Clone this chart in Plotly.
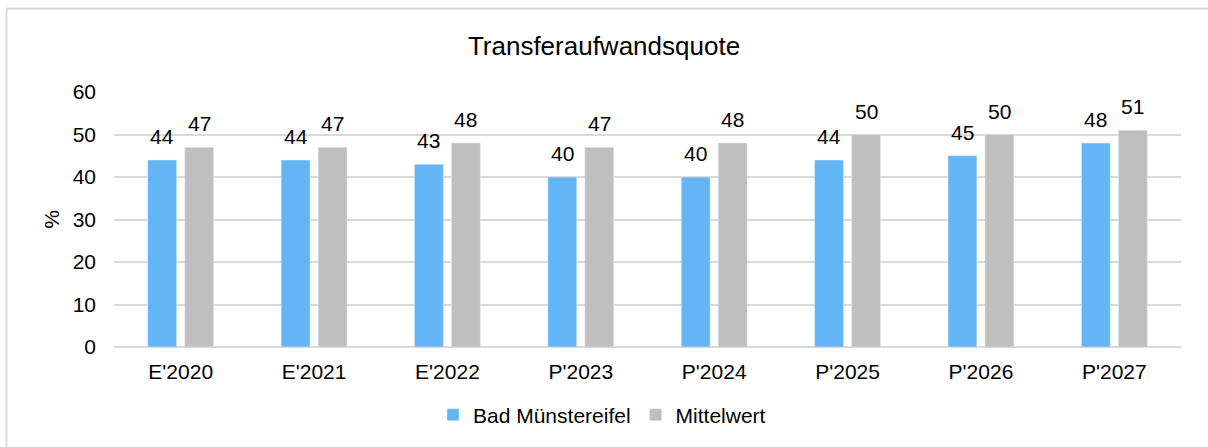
import plotly.graph_objects as go

categories = ["E'2020", "E'2021", "E'2022", "P'2023", "P'2024", "P'2025", "P'2026", "P'2027"]
bad_muenstereifel = [44, 44, 43, 40, 40, 44, 45, 48]
mittelwert = [47, 47, 48, 47, 48, 50, 50, 51]
y_ticks = [0, 10, 20, 30, 40, 50, 60]

FONT = "Liberation Sans, Arial, sans-serif"
TXT = "#000000"
FS = 21

fig = go.Figure()
fig.add_trace(go.Bar(
    x=categories, y=bad_muenstereifel, name="Bad Münstereifel",
    marker=dict(color="#64B5F6"),
))
fig.add_trace(go.Bar(
    x=categories, y=mittelwert, name="Mittelwert",
    marker=dict(color="#BFBFBF"),
))

# data labels
annotations = []
for series, shift in ((bad_muenstereifel, -18.5), (mittelwert, 18.5)):
    for c, v in zip(categories, series):
        annotations.append(dict(x=c, y=v, text=str(v), showarrow=False, xref="x", yref="y",
                                xanchor="center", yanchor="bottom", xshift=shift, yshift=10,
                                font=dict(size=FS, color=TXT, family=FONT)))

L, R, T, B = 114, 27, 92, 100
W, H = 1208, 447
pw, ph = W - L - R, H - T - B

def px(xpix):
    return (xpix - L) / pw

def py(ypix):
    return (H - B - ypix) / ph

border = dict(color="#D9D9D9", width=2)
fig.update_layout(
    width=W, height=H,
    margin=dict(l=L, r=R, t=T, b=B, autoexpand=False),
    paper_bgcolor="white", plot_bgcolor="white",
    font=dict(family=FONT, size=FS, color=TXT),
    barmode="group", bargap=0.445, bargroupgap=0.22,
    title=dict(text="Transferaufwandsquote", x=0.5, xref="container", xanchor="center",
               y=1 - 46 / H, yref="container", yanchor="middle",
               font=dict(size=26, color=TXT, family=FONT)),
    xaxis=dict(showgrid=False, showline=False, ticks="", ticklabelstandoff=10,
               tickfont=dict(size=FS, color=TXT)),
    yaxis=dict(range=[0, 60], tickvals=y_ticks, showgrid=True, gridcolor="#D9D9D9", gridwidth=1.5,
               zeroline=True, zerolinecolor="#D9D9D9", zerolinewidth=1.5,
               showline=False, ticks="", ticklabelstandoff=17,
               tickfont=dict(size=FS, color=TXT),
               title=dict(text="%", font=dict(size=FS, color=TXT), standoff=7)),
    legend=dict(orientation="h", x=px(433), xanchor="left", y=py(415), yanchor="middle",
                font=dict(size=FS, color=TXT), itemwidth=30, traceorder="normal"),
    annotations=annotations,
    shapes=[
        dict(type="line", xref="paper", yref="paper",
             x0=px(6.5), x1=px(1208), y0=py(8.5), y1=py(8.5), line=border, layer="below"),
        dict(type="line", xref="paper", yref="paper",
             x0=px(6.5), x1=px(6.5), y0=py(8.5), y1=py(447), line=border, layer="below"),
    ],
)

fig.write_html("out.html", config={"displayModeBar": False},
               post_script="document.body.style.margin='0';document.body.style.padding='0';"
                           "document.body.style.overflow='hidden';"
                           "document.documentElement.style.overflow='hidden';")
